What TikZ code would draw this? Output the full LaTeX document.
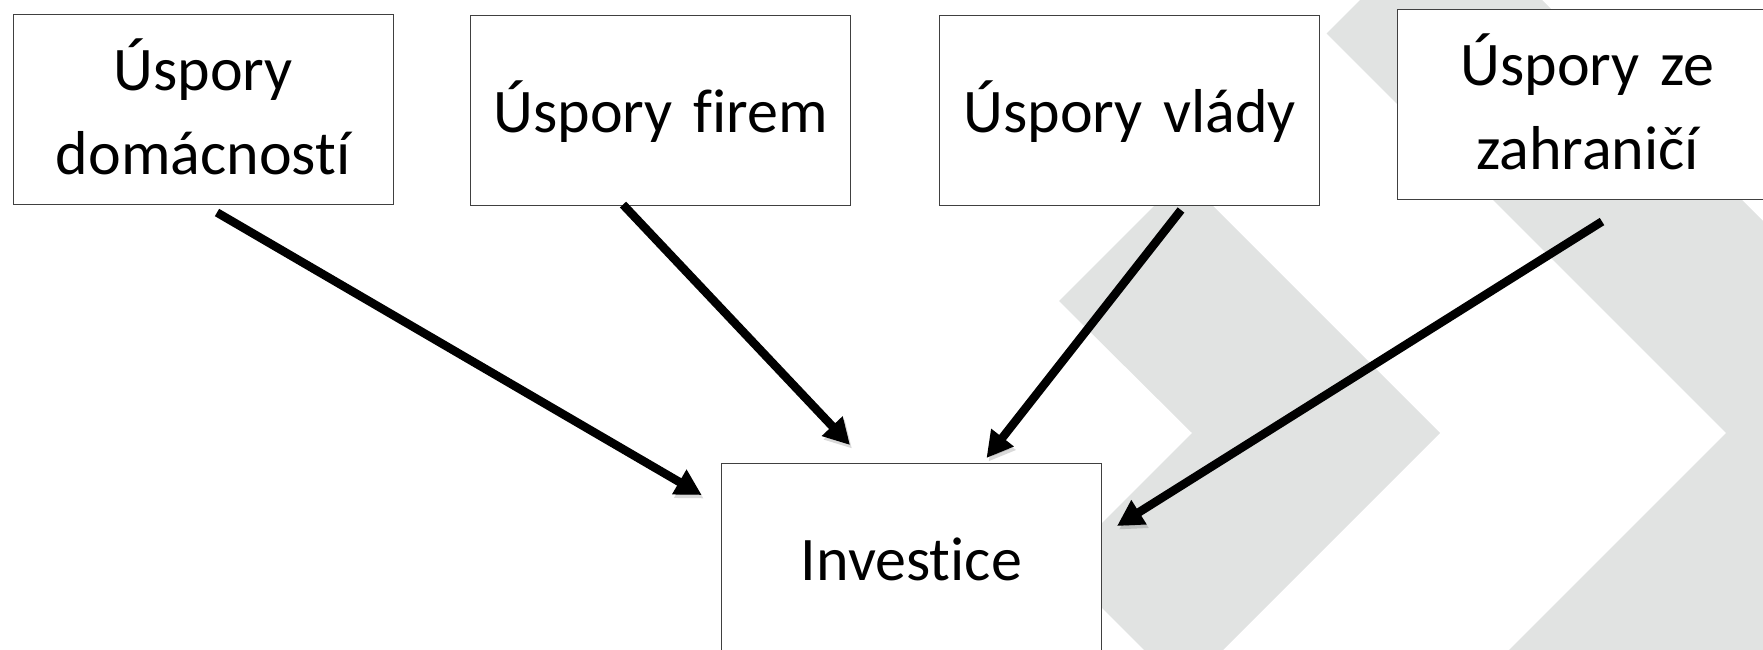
\documentclass[tikz,border=0pt]{standalone}
\usepackage{fontspec}
\setmainfont{Carlito}[Ligatures={NoCommon}]
\usetikzlibrary{arrows.meta}
\definecolor{chev}{RGB}{225,227,226}
\definecolor{boxline}{RGB}{64,64,64}
\begin{document}
\begin{tikzpicture}[x=1pt,y=-1pt,
  box/.style={draw=boxline, line width=1.3pt, fill=white, rectangle, inner sep=0pt,
    minimum width=380pt, minimum height=190pt, text width=380pt, align=center,
    anchor=north west, font=\fontsize{62}{84}\selectfont},
  oneline/.style={text height=117.5pt, text depth=72.5pt},
  twoline/.style={text height=75.5pt, text depth=114.5pt},
  arr/.style={line width=8.5pt, -{Triangle[length=26pt,width=27pt]},
    preaction={draw=black, opacity=0.15, transform canvas={xshift=2pt,yshift=-3.5pt}}}]
\useasboundingbox (0,0) rectangle (1763,649);
% background chevrons
\begin{scope}
\clip (0,0) rectangle (1763,649);
\fill[chev] (1183.5,176.5) -- (1440,433) -- (1183.5,689.5) -- (1059.5,565.5)
  -- (1192,433) -- (1059,301) -- cycle;
\fill[chev] (1451,-91) -- (2200,658) -- (1451,1405) -- (1326.5,832.5)
  -- (1726,433) -- (1326.5,33.5) -- cycle;
\end{scope}
% boxes
\node[box, twoline] (b1) at (12.5,14) {Úspory\\domácností};
\node[box, oneline] (b2) at (470,14.6) {Úspory firem};
\node[box, oneline] (b3) at (939,14.6) {Úspory vlády};
\node[box, twoline] (b4) at (1397,9) {Úspory ze\\zahraničí};
\node[box, oneline] (inv) at (720.7,462.7) {Investice};
% arrow ends
\coordinate (s1) at (217,212.5);
\coordinate (e1) at (701.7,495);
\coordinate (s2) at (623,204.6);
\coordinate (e2) at (850,445);
\coordinate (s3) at (1181,210);
\coordinate (e3) at (986.5,458);
\coordinate (s4) at (1602,221.5);
\coordinate (e4) at (1117,526);
\draw[arr] (s1) -- (e1);
\draw[arr] (s2) -- (e2);
\draw[arr] (s3) -- (e3);
\draw[arr] (s4) -- (e4);
\end{tikzpicture}
\end{document}
